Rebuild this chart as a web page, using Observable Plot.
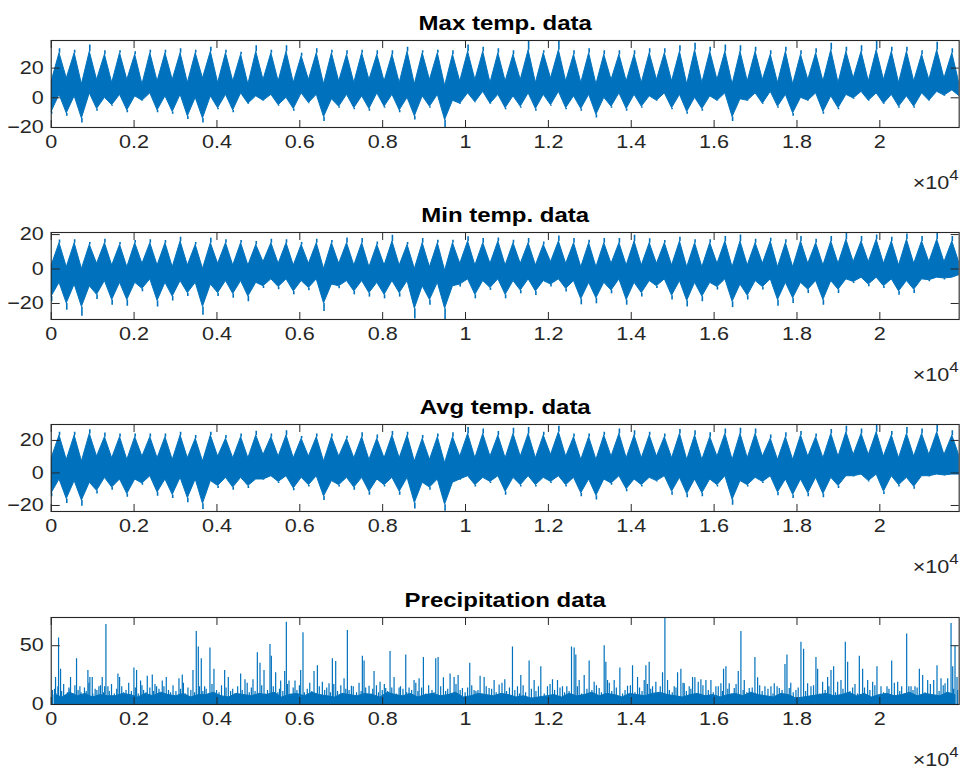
<!DOCTYPE html>
<html><head><meta charset="utf-8">
<script src="https://cdn.jsdelivr.net/npm/d3@7"></script>
<script src="https://cdn.jsdelivr.net/npm/@observablehq/plot@0.6"></script>
<style>
body{margin:0;background:#fff;}
#chart{width:974px;}
#chart svg{display:block;}
</style></head><body><div id="chart"></div>
<script>
// ---------- data ----------
const titles = ["Max temp. data", "Min temp. data", "Avg temp. data", "Precipitation data"];
const xTicks = [0,2000,4000,6000,8000,10000,12000,14000,16000,18000,20000];
const xTickLabels = ["0","0.2","0.4","0.6","0.8","1","1.2","1.4","1.6","1.8","2"];
const xExponent = "4";
const xDomain = [0, 21915];            // day index
const yTicksTemp = [-20, 0, 20];
const yTicksPrcp = [0, 50];
const yDomainMax = [-20, 38.6];
const yDomainMin = [-29.3, 21.2];
const yDomainAvg = [-23.7, 29.8];
const yDomainPrcp = [0, 74];

// yearly cycle: winter point near day 10 of each year, summer point near day 200
const DAYS_PER_YEAR = 365.25, WINTER_DAY = 10, SUMMER_DAY = 200;

// Max temperature: extreme summer peaks / winter troughs (spikes), typical band edges
const maxPeak = [33,32,35.6,31.7,31.7,31,32,32,33,32,34,32,30.6,35,32,35,30,33,32,31.7,32,31.7,31.7,34,31.7,32,31.7,35.6,34,33,31.7,38.3,31.7,38.3,31.7,33,31.7,31.7,31.7,33,33,35,36.7,34,35.6,35,34,31.7,34,31.7,33,36.7,34,35,38.6,34,34,31.7,37.4,33];
const maxBandHigh = [30,30,31,29,30,29,30,30,30,30,31,30,29,31,30,31,28,30,30,29,30,29,29,31,30,30,29,31,31,30,29,32,30,32,29,30,29,29,29,30,30,31,32,31,31,31,31,29,31,29,30,32,31,31,32,31,31,29,32,30];
const maxTrough = [-11,-12.5,-17,-9,-5.7,-10,-2.3,-10,-11,-14.7,-17,-8,-10,-4.5,-2.3,-5.7,-9,-4,-16,-7,-8,-9,-7,-10,-15,-7,-20,-4.5,-3.4,-4.5,-8,-7,-9,-5.7,-8,-9,-13.6,-7,-9,-7,-2.3,-8,-11,-9,-2.3,-16,-2.3,-4.5,-7,-12.5,-2.3,-11,-8,-1,-2.3,-4.5,-7,-7,-2.3,1,0];
const maxBandLow = [-9.5,-10.5,-14,-7.5,-5,-8.5,-2,-8.5,-9.5,-12.5,-14,-7,-8.5,-4,-2,-5,-7.5,-3.5,-13,-6,-7,-7.5,-6,-8.5,-12.5,-6,-15,-4,-3,-4,-7,-6,-7.5,-5,-7,-7.5,-11.5,-6,-7.5,-6,-2,-7,-9.5,-7.5,-2,-13,-2,-4,-6,-10.5,-2,-9.5,-7,-0.5,-2,-4,-6,-6,-2,1.5,1];
const maxWinterTop = [11,13,9,12,10,12,9,11,12,10,13,10,11,9,12,11,10,12,9,11,10,12,11,10,9,12,8,11,12,10,11,12,10,13,11,10,9,12,11,10,12,11,9,10,12,9,11,12,10,9,12,11,10,13,11,12,10,11,12,13,9];
const maxSummerBottom = [2,1,3,0,2,1,3,1,2,0,1,2,3,1,2,0,3,2,-1,2,1,3,2,0,1,2,-2,3,4,2,1,3,2,4,1,2,0,3,2,1,3,2,0,1,3,-1,3,4,2,0,3,1,2,4,3,2,1,3,4,5];

// Min temperature
const minPeak = [16.9,17,15.4,17.3,15.4,16.5,17,16.5,18.5,15.4,17.9,17,16.5,16,17.3,17,15.4,17.3,16.5,18,17.7,15.7,19.6,15.4,17.7,16.7,16.7,18.7,17.7,18,16.7,17.7,15.7,19.2,17.7,16.7,17.7,17.7,19.6,17.5,16.5,18.5,17,17,18.9,19.8,17.3,17.9,17,18.9,17.3,18.9,20.8,18.9,19.8,18.5,20.4,18.9,21.2,18.9];
const minBandHigh = [15,15,14,15,14,15,15,15,16,14,15,15,15,14,15,15,14,15,15,15,15,14,16,14,15,15,15,16,15,16,15,15,14,16,15,15,15,15,16,15,15,16,15,15,16,16,15,16,15,16,15,16,17,16,17,16,17,16,17,16];
const minTrough = [-19,-24,-27.4,-17.7,-21,-21.6,-13.2,-22,-18.5,-16,-26.8,-16,-17,-19,-11.3,-12,-15,-12.6,-24.6,-11.5,-15,-16.3,-17.3,-16.3,-29,-21,-29.3,-10.5,-17.3,-12.4,-17.3,-14.4,-15.4,-10.5,-13.4,-20.8,-20.2,-14.4,-21,-16.2,-11.3,-18,-22,-19,-12.2,-22.4,-18,-12.2,-21.6,-20,-14.2,-21,-14.2,-8.4,-10.3,-11.3,-15.2,-14.2,-7.4,-6.4,-4];
const minBandLow = [-16,-20,-22,-15,-18,-18,-11.5,-18.5,-16,-14,-22,-14,-14.5,-16,-10,-10.5,-13,-11,-20,-10,-13,-14,-15,-14,-23,-18,-23,-9,-15,-11,-15,-12.5,-13,-9,-11.5,-17.5,-17,-12.5,-18,-14,-10,-15.5,-18.5,-16,-10.5,-19,-15.5,-10.5,-18,-17,-12,-18,-12,-7.5,-9,-10,-13,-12,-6.5,-5.5,-3.5];
const minWinterTop = [2,1,0,3,2,1,3,2,1,2,0,3,2,2,4,3,2,3,0,3,2,1,2,2,0,1,-1,3,2,3,2,3,2,4,3,1,1,3,2,2,3,2,1,1,3,1,2,3,1,1,3,2,3,4,4,3,2,3,4,4,3];
const minSummerBottom = [-8,-9,-10,-7,-8,-8,-6,-8,-7,-8,-9,-7,-7,-8,-6,-6,-7,-6,-9,-7,-7,-8,-7,-7,-10,-8,-10,-6,-7,-6,-7,-6,-7,-6,-7,-8,-8,-6,-8,-7,-6,-7,-8,-8,-6,-9,-7,-6,-8,-8,-7,-7,-6,-5,-5,-6,-7,-6,-5,-5];

// Avg temperature
const avgPeak = [25,25,26.5,24.5,24,24,24,24,25,23,25,23,24,25.7,24,26,22.4,24,24,22.6,24.7,23.4,25.5,25,23,24,24.7,28,27,25.5,27.5,28,25,28.7,24,24,25,27,26,25,24,26.7,26,24.7,27,27.5,27,23.4,24.7,25.5,24,26.7,28.7,27,29.6,25.5,28,27,29.2,26];
const avgBandHigh = [23,23,24,22,22,22,22,22,23,21,23,21,22,23,22,23,21,22,22,21,22,21,23,23,21,22,22,24,24,23,24,24,23,25,22,22,23,24,23,23,22,24,23,22,24,24,24,21,22,23,22,24,25,24,25,23,24,24,25,23];
const avgTrough = [-14.7,-18.8,-20.4,-13,-10.6,-15,-7.5,-14.3,-15.7,-18.4,-22.4,-9.6,-10.6,-9.6,-4.5,-6.5,-11,-8.6,-17,-8.6,-10.6,-13.7,-8.6,-13.7,-22.2,-10.6,-23.5,-4.5,-8.6,-6.5,-13.7,-8.6,-8.6,-6.5,-8.6,-14.7,-16.7,-7.5,-11.6,-8.6,-5.5,-13.7,-15.3,-14.7,-8.6,-19.8,-8.6,-6.5,-14,-15.7,-14.7,-15.3,-9.6,-2.5,-5.5,-13.3,-8.6,-10,-2.5,-1.8,-1.4];
const avgBandLow = [-12.5,-16,-17,-11,-9,-13,-6.5,-12,-13.5,-15.5,-19,-8,-9,-8,-4,-5.5,-9.5,-7.5,-14.5,-7.5,-9,-11.5,-7.5,-11.5,-18.5,-9,-19.5,-4,-7.5,-5.5,-11.5,-7.5,-7.5,-5.5,-7.5,-12.5,-14,-6.5,-10,-7.5,-5,-11.5,-13,-12.5,-7.5,-16.5,-7.5,-5.5,-12,-13.5,-12.5,-13,-8,-2,-5,-11.5,-7.5,-8.5,-2,-1.5,-1];
const avgWinterTop = [9,8,7,10,9,8,10,9,8,9,7,10,9,9,11,10,9,10,7,10,9,8,9,9,7,8,6,10,9,10,9,10,9,11,10,8,8,10,9,9,10,9,8,8,10,8,9,10,8,8,10,9,10,11,11,10,9,10,11,11,10];
const avgSummerBottom = [-4,-5,-6,-3,-4,-4,-2,-4,-3,-4,-5,-3,-3,-4,-2,-2,-3,-2,-5,-3,-3,-4,-3,-3,-6,-4,-6,-2,-3,-2,-3,-2,-3,-2,-3,-4,-4,-2,-4,-3,-2,-3,-4,-4,-2,-5,-3,-2,-4,-4,-3,-3,-2,-1,-1,-2,-3,-2,-1,-1];

// Precipitation: dense low base (per half year), large spikes and smaller "grass" spikes [day, value]
const HALF_YEAR = 182.625;
const prcpBase = [8,6,10,7,9,6,8,7,7,9,8,6,9,7,10,8,7,9,6,8,8,10,7,6,9,8,7,9,8,10,6,8,9,7,10,8,7,6,9,8,7,9,8,6,10,8,7,9,6,8,9,7,8,10,6,7,9,8,7,9,8,6,7,5,6,7,8,6,9,7,8,10,7,9,8,6,9,8,7,9,10,8,7,6,8,9,7,8,6,8,9,7,10,8,7,6,9,8,5,6,7,8,9,7,8,10,7,9,6,8,9,7,8,10,7,9,8,7,10,8];
const prcpSpikeDays = [80,104,177,225,426,466,611,692,885,933,990,1151,1231,1320,1368,1610,1650,1996,2060,2157,2318,2439,2543,2680,2777,3083,3163,3421,3501,3550,3622,3703,3831,3928,4186,4274,4572,4677,4870,4975,5039,5136,5280,5313,5417,5538,5635,5675,5739,5884,6021,6077,6343,6424,6544,6705,
 6786,6866,7068,7148,7245,7510,7551,7671,7792,7937,8074,8178,8275,8396,8557,8637,8758,8879,8983,9281,9338,9466,9627,9724,9821,9925,10102,10207,10352,10449,10569,10690,10811,10948,11133,11254,11334,11535,11656,11817,11978,12099,12220,12340,12445,12558,12622,12662,12743,12864,12984,13105,13226,13347,13387,13427,13588,13725,13910,14031,14152,14313,
 14353,14433,14514,14594,14755,14812,14876,15037,15118,15198,15279,15399,15480,15536,15617,15681,15802,15923,16043,16164,16228,16285,16365,16486,16583,16647,16728,16848,16985,17050,17227,17372,17452,17573,17710,17758,17814,17975,18096,18160,18257,18338,18458,18499,18619,18740,18821,18885,18982,19062,19167,19223,19344,19505,19585,19706,19827,19931,20028,20173,20286,20431,20527,20648,20753,20849,20954,21034,21155,21300,21380,21477,21574,21638,21719,21759,21815,21863];
const prcpSpikeValues = [13,23,56.5,30,14,23,39,15,29,23,23,15,23,68,15,26,23,31,29,20,24,25,15,20,23,22,25,29,62,49,39,15,48,30,29,23,26,21,21,44,35,29,51,41,27,20,28,70,20,20,29,61,28,33,19,17.7,
 39,36.5,22,63,15.5,41,37,15.5,28,19,13.5,45,23,14,42,14,20.5,22,40,39,40,22.8,26,23,24.7,13.5,35,12,24,23,13.5,20.5,16.5,21,49,15,24.7,37,20.5,32,15,21,20.5,15,15,49,48,42,20.5,24.7,37,19,13.5,50,36,20.5,20.5,31,15.5,33,23,20.5,
 33,36,15,19,27,74,20.5,15,27,30,17.7,15,23,22.8,19,21,20.5,20.5,15,17.7,30,32,17.7,13.5,28,62,20.5,13.5,40,22.8,15,15,17.7,13.5,34,42,13.5,12,53,47,17.7,15,40,30,19,23,29,32,19,20.5,53,36,14,41,30,20.5,19,32,15,15,37,19,15,60,15,15,30,24.7,20.5,20.5,33,22,17.7,22,69,32,50,23];
const prcpGrassDays = [30,118,160,251,300,389,455,530,571,648,719,802,845,910,1003,1060,1102,1189,1262,1290,1401,1455,1523,1580,1702,1748,1805,1870,1935,2030,2101,2190,2230,2290,2380,2470,2505,2600,2640,2720,2830,2880,2940,3010,3120,3190,3240,3300,3370,3460,3580,3660,3740,3790,3880,3990,4050,4110,4220,4330,4380,4430,4500,4610,4730,4780,4830,4920,5080,5180,5220,5360,5470,5510,5590,5700,5790,5840,5930,5990,6110,6180,6240,6290,6380,6470,6600,6650,6740,6820,6910,6990,7050,7110,7190,7290,7370,7430,7480,7590,7720,7760,7850,7900,7990,8040,8120,8220,8330,8430,8490,8580,8700,8800,8850,8940,9040,9110,9190,9240,9400,9520,9570,9680,9770,9870,9990,10050,10150,10250,10300,10400,10500,10630,10740,10880,10990,11060,11190,11300,11390,11450,11590,11700,11760,11900,12040,12150,12280,12390,12500,12700,12800,12930,13050,13160,13280,13470,13530,13640,13790,13850,13980,14090,14200,14260,14390,14470,14650,14700,14920,14990,15080,15250,15330,15440,15580,15730,15860,15980,16100,16200,16330,16420,16530,16700,16790,16920,17100,17160,17300,17420,17520,17640,17850,17910,18030,18210,18400,18550,18680,18770,18930,19110,19280,19400,19460,19630,19760,19880,20090,20220,20350,20480,20590,20700,20800,20900,21090,21220,21430,21530,21680,21780,21880];
const prcpGrassValues = [12,9,15,11,17,10,13,9,16,12,10,14,11,18,9,13,12,16,10,15,11,17,9,13,15,10,12,18,11,14,9,16,12,10,14,11,17,13,9,15,12,10,16,11,13,18,9,14,12,10,15,11,13,9,17,12,10,16,14,11,13,9,15,12,18,10,14,11,16,9,12,15,10,13,11,17,9,14,12,16,10,13,18,11,9,15,12,14,10,17,11,16,9,13,12,15,10,18,11,14,9,13,16,10,12,17,11,14,9,15,13,10,12,18,11,14,9,16,12,10,15,11,13,9,17,12,10,14,16,11,12,9,15,13,10,18,11,14,12,9,16,10,13,11,15,9,17,12,14,10,11,15,9,13,12,16,10,18,11,14,9,12,16,10,14,11,17,13,9,15,12,10,14,18,11,13,9,16,12,10,15,11,13,9,17,12,10,14,16,11,13,9,15,12,18,10,14,11,16,9,12,15,10,13,11,17,9,14,12,16,10,13,18,11,9,15,12,14,10,17,11,16,9,13,12];

// ---------- styling ----------
const BLUE = "#0072BD";
const AXIS = "#262626";
const FONT = "'Liberation Sans', Arial, Helvetica, sans-serif";
const TEXT_STRETCH = 1.2;

// ---------- build tables ----------
function bandRows(bandLow, winterTop, bandHigh, summerBottom) {
  const rows = [];
  for (let k = 0; k < bandLow.length; k++) {
    rows.push({day: k * DAYS_PER_YEAR + WINTER_DAY, lo: bandLow[k], hi: winterTop[k]});
    if (k < bandHigh.length) rows.push({day: k * DAYS_PER_YEAR + SUMMER_DAY, lo: summerBottom[k], hi: bandHigh[k]});
  }
  return rows;
}
function spikeRows(trough, bandLow, peak, bandHigh) {
  const rows = [];
  trough.forEach((v, k) => rows.push({day: k * DAYS_PER_YEAR + WINTER_DAY, a: v, b: bandLow[k]}));
  peak.forEach((v, k) => rows.push({day: k * DAYS_PER_YEAR + SUMMER_DAY, a: bandHigh[k], b: v}));
  return rows;
}
const prcpBaseRows = prcpBase.map((v, i) => ({day: i * HALF_YEAR + HALF_YEAR / 2, v}));
const prcpSpikes = prcpSpikeDays.map((d, i) => ({day: d, v: prcpSpikeValues[i]}))
  .concat(prcpGrassDays.map((d, i) => ({day: d, v: prcpGrassValues[i]})));

const W = 974, H = 192.2;
const M = {top: 40, bottom: 65.2, left: 50.7, right: 15.3};

function axes(yTicks) {
  const fmt = d => xTickLabels[xTicks.indexOf(d)];
  return [
    Plot.frame({stroke: AXIS, strokeWidth: 1.1}),
    Plot.axisX(xTicks, {anchor: "top", frameAnchor: "bottom", tickSize: 8, fill: "none", stroke: AXIS, label: null}),
    Plot.axisX(xTicks, {anchor: "bottom", frameAnchor: "top", tickSize: 8, fill: "none", stroke: AXIS, label: null}),
    Plot.axisY(yTicks, {anchor: "right", frameAnchor: "left", tickSize: 8, fill: "none", stroke: AXIS, label: null}),
    Plot.axisY(yTicks, {anchor: "left", frameAnchor: "right", tickSize: 8, fill: "none", stroke: AXIS, label: null}),
    Plot.axisX(xTicks, {anchor: "bottom", tickSize: 0, tickPadding: 8, tickFormat: fmt, fill: AXIS, label: null}),
    Plot.axisY(yTicks, {anchor: "left", tickSize: 0, tickPadding: 7.4, fill: AXIS, label: null})
  ];
}

function titleMark(t) {
  return Plot.text([t], {frameAnchor: "top", dy: -17, fontSize: 20, fontWeight: "bold", fill: "#000", lineAnchor: "middle"});
}

function basePlot(marks, yDomain) {
  return Plot.plot({
    width: W, height: H,
    marginTop: M.top, marginBottom: M.bottom, marginLeft: M.left, marginRight: M.right,
    style: {fontFamily: FONT, fontSize: "18px", color: AXIS, background: "#fff", overflow: "visible"},
    x: {domain: xDomain},
    y: {domain: yDomain},
    marks
  });
}

function tempPanel(title, band, spikes, yDomain) {
  return basePlot([
    Plot.areaY(band, {x: "day", y1: "lo", y2: "hi", fill: BLUE, stroke: BLUE, strokeWidth: 1, clip: true}),
    Plot.ruleX(spikes, {x: "day", y1: "a", y2: "b", stroke: BLUE, strokeWidth: 1.6, clip: true}),
    ...axes(yTicksTemp),
    titleMark(title)
  ], yDomain);
}

function prcpPanel(title) {
  return basePlot([
    Plot.areaY(prcpBaseRows, {x: "day", y1: 0, y2: "v", fill: BLUE, stroke: BLUE, strokeWidth: 1, clip: true}),
    Plot.ruleX(prcpSpikes, {x: "day", y1: 0, y2: "v", stroke: BLUE, strokeWidth: 1.2, clip: true}),
    ...axes(yTicksPrcp),
    titleMark(title)
  ], yDomainPrcp);
}

const chart = document.getElementById("chart");
const panels = [
  tempPanel(titles[0], bandRows(maxBandLow, maxWinterTop, maxBandHigh, maxSummerBottom), spikeRows(maxTrough, maxBandLow, maxPeak, maxBandHigh), yDomainMax),
  tempPanel(titles[1], bandRows(minBandLow, minWinterTop, minBandHigh, minSummerBottom), spikeRows(minTrough, minBandLow, minPeak, minBandHigh), yDomainMin),
  tempPanel(titles[2], bandRows(avgBandLow, avgWinterTop, avgBandHigh, avgSummerBottom), spikeRows(avgTrough, avgBandLow, avgPeak, avgBandHigh), yDomainAvg),
  prcpPanel(titles[3])
];
for (const p of panels) chart.appendChild(p);

// exponent label "×10^4" under the right end of each x axis, then widen text like the reference
for (const p of panels) {
  const svg = d3.select(p);
  const t = svg.append("text")
    .attr("x", W - M.right).attr("y", H - 3)
    .attr("text-anchor", "end")
    .attr("fill", AXIS)
    .style("font-family", FONT).style("font-size", "18px");
  t.append("tspan").text("×10");
  t.append("tspan").attr("dy", -9).style("font-size", "14px").text(xExponent);
  svg.selectAll("text").each(function() {
    const len = this.getComputedTextLength();
    if (len > 0) {
      this.setAttribute("textLength", (len * TEXT_STRETCH).toFixed(2));
      this.setAttribute("lengthAdjust", "spacingAndGlyphs");
    }
  });
}
</script>
</body></html>
